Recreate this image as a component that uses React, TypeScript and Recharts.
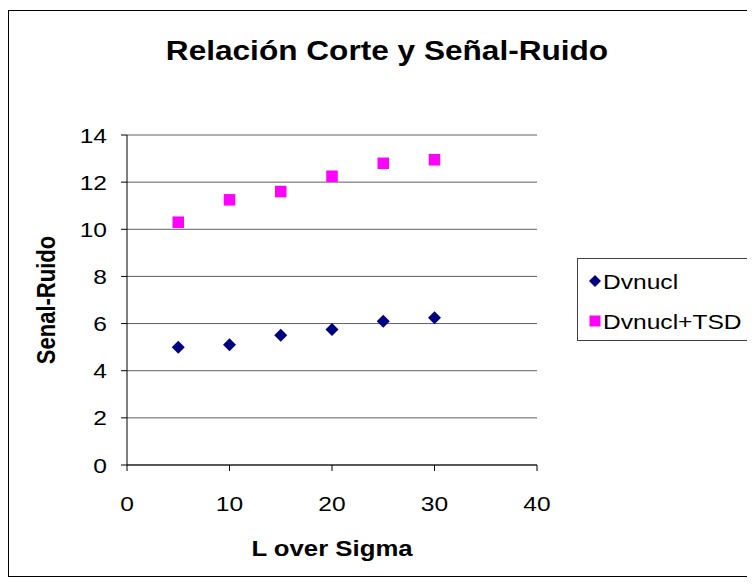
import { ScatterChart, Scatter, XAxis, YAxis, CartesianGrid, Legend } from "recharts";

const X_VALUES = [5, 10, 15, 20, 25, 30];
const DVNUCL = [5.0, 5.1, 5.5, 5.75, 6.1, 6.25];
const DVNUCL_TSD = [10.3, 11.25, 11.6, 12.25, 12.8, 12.95];
const X_TICKS = [0, 10, 20, 30, 40];
const Y_TICKS = [0, 2, 4, 6, 8, 10, 12, 14];

const TITLE = "Relación Corte y Señal-Ruido";
const X_TITLE = "L over Sigma";
const Y_TITLE = "Senal-Ruido";

const FONT = "'Liberation Sans', Arial, sans-serif";
const STRETCH = 1.17;

const SERIES = [
  { name: "Dvnucl", color: "#000080", shape: "diamond", values: DVNUCL },
  { name: "Dvnucl+TSD", color: "#FF00FF", shape: "square", values: DVNUCL_TSD },
];

const toPoints = (values: number[]) => X_VALUES.map((x, i) => ({ x, y: values[i] }));

const Diamond = (props: any) => {
  const { cx, cy, fill } = props;
  const r = 6.5;
  return (
    <polygon
      points={`${cx},${cy - r} ${cx + r},${cy} ${cx},${cy + r} ${cx - r},${cy}`}
      fill={fill}
    />
  );
};

const Square = (props: any) => {
  const { cx, cy, fill } = props;
  return <rect x={cx - 5.75} y={cy - 5.75} width={11.5} height={11.5} fill={fill} />;
};

const XTick = (props: any) => {
  const { x, y, payload } = props;
  return (
    <g transform={`translate(${x},${y}) scale(${STRETCH},1)`}>
      <text x={0} y={38} textAnchor="middle" fontSize={21} fontFamily={FONT} fill="#000">
        {payload.value}
      </text>
    </g>
  );
};

const YTick = (props: any) => {
  const { x, y, payload } = props;
  return (
    <g transform={`translate(${x - 12},${y}) scale(${STRETCH},1)`}>
      <text x={0} y={7.5} textAnchor="end" fontSize={21} fontFamily={FONT} fill="#000">
        {payload.value}
      </text>
    </g>
  );
};

const LegendBox = () => (
  <div
    style={{
      position: "relative",
      width: 200,
      height: 83,
      boxSizing: "border-box",
      border: "1px solid #404040",
      background: "#fff",
      fontFamily: FONT,
    }}
  >
    {SERIES.map((s, i) => (
      <div key={s.name}>
        <svg
          width={14}
          height={14}
          style={{ position: "absolute", left: 10, top: 15 + i * 40 }}
        >
          {s.shape === "diamond" ? (
            <polygon points="7,1 13,7 7,13 1,7" fill={s.color} />
          ) : (
            <rect x={1.5} y={1.5} width={11} height={11} fill={s.color} />
          )}
        </svg>
        <span
          style={{
            position: "absolute",
            left: 25,
            top: 11 + i * 40,
            fontSize: 21,
            lineHeight: "23px",
            whiteSpace: "nowrap",
            transform: `scaleX(${STRETCH})`,
            transformOrigin: "left center",
            color: "#000",
          }}
        >
          {s.name}
        </span>
      </div>
    ))}
  </div>
);

export default function App() {
  return (
    <div
      style={{
        position: "relative",
        width: 747,
        height: 570,
        overflow: "hidden",
        fontFamily: FONT,
        background: "#fff",
      }}
    >
      <div
        style={{
          position: "absolute",
          left: 0,
          top: 2,
          width: 800,
          height: 565,
          border: "1px solid #000",
        }}
      />
      <div style={{ position: "absolute", left: 0, top: 0 }}>
        <ScatterChart
          width={747}
          height={570}
          margin={{ top: 127, right: 218, bottom: 73, left: 0 }}
        >
          <CartesianGrid vertical={false} stroke="#606060" />
          <XAxis
            type="number"
            dataKey="x"
            domain={[0, 40]}
            ticks={X_TICKS}
            height={40}
            stroke="#000"
            tickSize={6}
            tick={<XTick />}
            interval={0}
          />
          <YAxis
            type="number"
            dataKey="y"
            domain={[0, 14]}
            ticks={Y_TICKS}
            width={119}
            stroke="#000"
            tickSize={6}
            tick={<YTick />}
            interval={0}
          />
          <Legend
            layout="vertical"
            align="center"
            verticalAlign="middle"
            wrapperStyle={{ left: 569, top: 250, width: 200, height: 83 }}
            content={() => <LegendBox />}
          />
          {SERIES.map((s) => (
            <Scatter
              key={s.name}
              name={s.name}
              data={toPoints(s.values)}
              fill={s.color}
              shape={s.shape === "diamond" ? <Diamond /> : <Square />}
              isAnimationActive={false}
            />
          ))}
        </ScatterChart>
      </div>
      <div
        style={{
          position: "absolute",
          left: 379,
          top: 30,
          fontSize: 27,
          lineHeight: "27px",
          fontWeight: "bold",
          whiteSpace: "nowrap",
          transform: `translateX(-50%) scaleX(${STRETCH})`,
        }}
      >
        {TITLE}
      </div>
      <div
        style={{
          position: "absolute",
          left: 324,
          top: 530,
          fontSize: 22,
          lineHeight: "22px",
          fontWeight: "bold",
          whiteSpace: "nowrap",
          transform: `translateX(-50%) scaleX(${STRETCH})`,
        }}
      >
        {X_TITLE}
      </div>
      <div
        style={{
          position: "absolute",
          left: 39,
          top: 292,
          fontSize: 22,
          lineHeight: "22px",
          fontWeight: "bold",
          whiteSpace: "nowrap",
          transform: `translate(-50%, -50%) rotate(-90deg) scaleY(${STRETCH})`,
        }}
      >
        {Y_TITLE}
      </div>
    </div>
  );
}
